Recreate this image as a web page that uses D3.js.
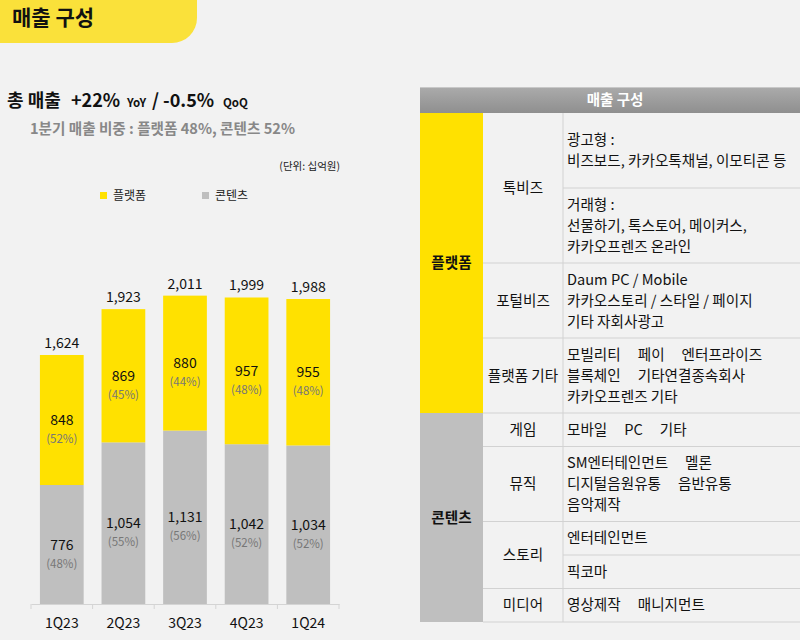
<!DOCTYPE html>
<html>
<head>
<meta charset="utf-8">
<script src="https://cdn.jsdelivr.net/npm/d3@7"></script>
<style>
  body { margin: 0; background: #f2f2f2; }
  svg { display: block; font-family: "Noto Sans CJK KR", "Noto Sans", sans-serif; }
</style>
</head>
<body>
<div id="chart"></div>
<script>
// quarterly revenue (KRW bn)
const quarters = ["1Q23", "2Q23", "3Q23", "4Q23", "1Q24"];
const platform = [848, 869, 880, 957, 955];
const content = [776, 1054, 1131, 1042, 1034];
const totals = [1624, 1923, 2011, 1999, 1988];
const platformPct = ["(52%)", "(45%)", "(44%)", "(48%)", "(48%)"];
const contentPct = ["(48%)", "(55%)", "(56%)", "(52%)", "(52%)"];

// revenue breakdown table
const groups = ["플랫폼", "콘텐츠"];
const segments = [
  { group: "플랫폼", name: "톡비즈", rows: [
    [["광고형 :"], ["비즈보드, 카카오톡채널, 이모티콘 등"]],
    [["거래형 :"], ["선물하기, 톡스토어, 메이커스,"], ["카카오프렌즈 온라인"]]
  ]},
  { group: "플랫폼", name: "포털비즈", rows: [
    [["Daum PC / Mobile"], ["카카오스토리 / 스타일 / 페이지"], ["기타 자회사광고"]]
  ]},
  { group: "플랫폼", name: "플랫폼 기타", rows: [
    [["모빌리티", "페이", "엔터프라이즈"], ["블록체인", "기타연결종속회사"], ["카카오프렌즈 기타"]]
  ]},
  { group: "콘텐츠", name: "게임", rows: [
    [["모바일", "PC", "기타"]]
  ]},
  { group: "콘텐츠", name: "뮤직", rows: [
    [["SM엔터테인먼트", "멜론"], ["디지털음원유통", "음반유통"], ["음악제작"]]
  ]},
  { group: "콘텐츠", name: "스토리", rows: [
    [["엔터테인먼트"]],
    [["픽코마"]]
  ]},
  { group: "콘텐츠", name: "미디어", rows: [
    [["영상제작", "매니지먼트"]]
  ]}
];

const W = 800, H = 640;
const YELLOW = "#ffe100", GREY = "#bfbfbf";

const svg = d3.select("#chart").append("svg")
  .attr("width", W)
  .attr("height", H);

svg.append("rect").attr("width", W).attr("height", H).attr("fill", "#f2f2f2");

// title banner
svg.append("path")
  .attr("d", "M0,0 H197 V18 A25,25 0 0 1 172,43 H0 Z")
  .attr("fill", "#fae13a");
svg.append("text")
  .attr("x", 12).attr("y", 25)
  .attr("font-size", 21).attr("font-weight", 700).attr("fill", "#111")
  .text("매출 구성");

// headline
const head = svg.append("text")
  .attr("y", 107)
  .attr("font-weight", 700).attr("fill", "#111").attr("font-size", 18);
head.append("tspan").attr("x", 7).text("총 매출");
head.append("tspan").attr("x", 71).text("+22%");
head.append("tspan").attr("x", 127).attr("font-size", 11.5).text("YoY");
head.append("tspan").attr("x", 152).text("/");
head.append("tspan").attr("x", 163).text("-0.5%");
head.append("tspan").attr("x", 223).attr("font-size", 11.5).text("QoQ");

svg.append("text")
  .attr("x", 30).attr("y", 134)
  .attr("font-size", 14.6).attr("font-weight", 700).attr("fill", "#888")
  .text("1분기 매출 비중 : 플랫폼 48%, 콘텐츠 52%");

svg.append("text")
  .attr("x", 340).attr("y", 170).attr("text-anchor", "end")
  .attr("font-size", 10.5).attr("fill", "#222")
  .text("(단위: 십억원)");

// legend
const legend = svg.append("g");
[["플랫폼", YELLOW, 100], ["콘텐츠", GREY, 202]].forEach(([name, color, x]) => {
  legend.append("rect").attr("x", x).attr("y", 192).attr("width", 7).attr("height", 7).attr("fill", color);
  legend.append("text").attr("x", x + 13).attr("y", 200)
    .attr("font-size", 12).attr("fill", "#222").text(name);
});

// bars
const x = d3.scaleBand().domain(quarters).range([31, 339]).paddingInner(0.29).paddingOuter(0.145);
const y = d3.scaleLinear().domain([0, 2100]).range([604, 282]);

const stackData = quarters.map((q, i) => ({ q, content: content[i], platform: platform[i] }));
const series = d3.stack().keys(["content", "platform"])(stackData);
const colors = { content: GREY, platform: YELLOW };

svg.append("g").selectAll("g")
  .data(series)
  .join("g")
  .attr("fill", d => colors[d.key])
  .selectAll("rect")
  .data(d => d)
  .join("rect")
  .attr("x", d => x(d.data.q))
  .attr("y", d => y(d[1]))
  .attr("width", x.bandwidth())
  .attr("height", d => y(d[0]) - y(d[1]));

// segment labels
series.forEach(s => {
  const pct = s.key === "platform" ? platformPct : contentPct;
  s.forEach((d, i) => {
    const cx = x(d.data.q) + x.bandwidth() / 2;
    const cy = (y(d[0]) + y(d[1])) / 2;
    svg.append("text").attr("x", cx).attr("y", cy + 5).attr("text-anchor", "middle")
      .attr("font-size", 14).attr("fill", "#111").text(d3.format(",")(d.data[s.key]));
    svg.append("text").attr("x", cx).attr("y", cy + 23).attr("text-anchor", "middle")
      .attr("font-size", 11.5).attr("fill", "#777").text(pct[i]);
  });
});

// totals
svg.append("g").selectAll("text")
  .data(quarters)
  .join("text")
  .attr("x", q => x(q) + x.bandwidth() / 2)
  .attr("y", (q, i) => y(totals[i]) - 7)
  .attr("text-anchor", "middle")
  .attr("font-size", 14).attr("fill", "#111")
  .text((q, i) => d3.format(",")(totals[i]));

// x axis
const axis = svg.append("g").attr("transform", "translate(0,604)")
  .call(d3.axisBottom(x).tickSize(0).tickPadding(14));
axis.select(".domain").attr("stroke", "#d4d4d4");
axis.selectAll("text").attr("font-size", 14).attr("fill", "#111")
  .attr("font-family", "'Noto Sans CJK KR', sans-serif");
const edges = quarters.map(q => x(q) - x.step() * x.paddingInner() / 2)
  .concat([x(quarters[quarters.length - 1]) + x.bandwidth() + x.step() * x.paddingInner() / 2]);
axis.selectAll(".edge").data(edges).join("line")
  .attr("x1", d => d).attr("x2", d => d).attr("y1", 0).attr("y2", 5)
  .attr("stroke", "#d4d4d4");

// table
const tx0 = 420, tx1 = 483, tx2 = 563, tx3 = 812;
const lineH = 21;
const rowHeights = { 1: 33.5, 2: 75, 3: 75 };

const defs = svg.append("defs");
const grad = defs.append("linearGradient").attr("id", "hdr").attr("x1", 0).attr("y1", 0).attr("x2", 0).attr("y2", 1);
grad.append("stop").attr("offset", 0).attr("stop-color", "#ababab");
grad.append("stop").attr("offset", 1).attr("stop-color", "#8f8f8f");

const table = svg.append("g");
table.append("rect").attr("x", tx0).attr("y", 87).attr("width", tx3 - tx0).attr("height", 26).attr("fill", "url(#hdr)");
table.append("line").attr("x1", tx0).attr("x2", tx3).attr("y1", 87.5).attr("y2", 87.5).attr("stroke", "#c8c8c8");
table.append("text").attr("x", 615).attr("y", 105).attr("text-anchor", "middle")
  .attr("font-size", 14.5).attr("font-weight", 700).attr("fill", "#fff").text("매출 구성");

let yCur = 113;
const groupSpan = {};
segments.forEach(seg => {
  const segTop = yCur;
  seg.rows.forEach((lines, ri) => {
    const h = rowHeights[lines.length] || 33.5;
    const mid = yCur + h / 2;
    lines.forEach((parts, li) => {
      const ly = mid + (li - (lines.length - 1) / 2) * lineH + 5;
      let px = 567;
      parts.forEach(p => {
        const t = table.append("text").attr("x", px).attr("y", ly)
          .attr("font-size", 14.6).attr("fill", "#111").text(p);
        px += t.node().getComputedTextLength() + 17;
      });
    });
    yCur += h;
    table.append("line").attr("x1", ri < seg.rows.length - 1 ? tx2 : tx1)
      .attr("x2", tx3).attr("y1", yCur).attr("y2", yCur)
      .attr("stroke", "#d2d2d2");
  });
  table.append("text").attr("x", (tx1 + tx2) / 2).attr("y", (segTop + yCur) / 2 + 5)
    .attr("text-anchor", "middle").attr("font-size", 14.6).attr("fill", "#111").text(seg.name);
  const g = groupSpan[seg.group] || (groupSpan[seg.group] = { top: segTop, bottom: yCur });
  g.bottom = yCur;
});

table.append("line").attr("x1", tx2).attr("x2", tx2).attr("y1", 113).attr("y2", yCur).attr("stroke", "#d2d2d2");

groups.forEach(gname => {
  const g = groupSpan[gname];
  table.append("rect").attr("x", tx0).attr("y", g.top).attr("width", tx1 - tx0).attr("height", g.bottom - g.top)
    .attr("fill", gname === "플랫폼" ? YELLOW : GREY);
  table.append("text").attr("x", (tx0 + tx1) / 2).attr("y", (g.top + g.bottom) / 2 + 5)
    .attr("text-anchor", "middle").attr("font-size", 14.6).attr("font-weight", 700).attr("fill", "#111").text(gname);
});
</script>
</body>
</html>
